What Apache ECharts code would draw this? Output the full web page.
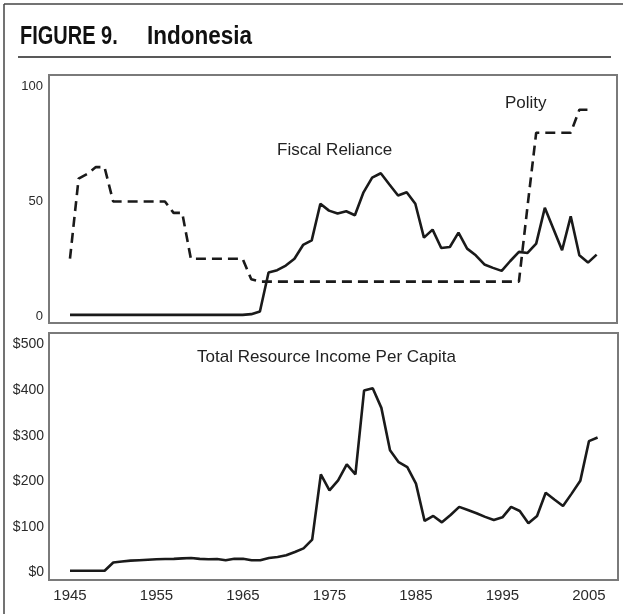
<!DOCTYPE html>
<html>
<head>
<meta charset="utf-8">
<script src="https://cdn.jsdelivr.net/npm/echarts@6/dist/echarts.min.js"></script>
<style>
  html, body { margin: 0; padding: 0; background: #fff; }
  #chart { width: 623px; height: 614px; }
</style>
</head>
<body>
<div id="chart"></div>
<script>
// years 1945..2006
let years = [];
for (let y = 1945; y <= 2006; y++) years.push(y);

// fiscal reliance (solid, top panel), 1945..2006
let fiscalReliance = [
    0.5, 0.5, 0.5, 0.5, 0.5, 0.5, 0.5, 0.5, 0.5, 0.5,   // 1945-1954
    0.5, 0.5, 0.5, 0.5, 0.5, 0.5, 0.5, 0.5, 0.5, 0.5,   // 1955-1964
    0.5, 0.8, 2, 19, 20, 22, 25, 31, 33, 49,            // 1965-1974
    46, 44.7, 45.7, 44, 54, 60.4, 62.3, 57.4, 52.6, 54, // 1975-1984
    49, 34.2, 37.7, 29.7, 30.1, 36.4, 29.4, 26.5, 22.5, 21, // 1985-1994
    19.7, 24, 28, 27.5, 31.6, 47.2, 38, 28.7, 43.5, 26.5,   // 1995-2004
    23.3, 26.8                                          // 2005-2006
];

// polity (dashed, top panel), 1945..2005
let polity = [
    25, 60, 62, 65, 65, 50, 50, 50, 50, 50,             // 1945-1954
    50, 50, 45, 45, 25, 25, 25, 25, 25, 25,             // 1955-1964
    25, 16, 15, 15, 15, 15, 15, 15, 15, 15,             // 1965-1974
    15, 15, 15, 15, 15, 15, 15, 15, 15, 15,             // 1975-1984
    15, 15, 15, 15, 15, 15, 15, 15, 15, 15,             // 1985-1994
    15, 15, 15, 48, 80, 80, 80, 80, 80, 90,             // 1995-2004
    90                                                  // 2005
];

// total resource income per capita (bottom panel), 1945..2006
let resourceIncome = [
    4, 4, 4, 4, 4, 22, 24, 26, 27, 28,                  // 1945-1954
    29, 29.5, 30, 31, 32, 30, 29, 29.5, 27, 30,         // 1955-1964
    30, 27, 27, 31.7, 34, 38, 45, 53, 72, 215,          // 1965-1974
    180, 202, 237, 215, 399, 404, 361, 268, 242, 231,   // 1975-1984
    195, 113, 124, 110, 126, 144, 137, 130, 122, 115,   // 1985-1994
    121, 144, 135, 108, 124, 175, 160, 146, 173, 201,   // 1995-2004
    288, 296                                            // 2005-2006
];

let xTickYears = [1945, 1955, 1965, 1975, 1985, 1995, 2005];
let topTicks = [0, 50, 100];
let bottomTicks = [0, 100, 200, 300, 400, 500];

let pairs = function (vals) {
    return vals.map((v, i) => [years[i], v]);
};

let chartDom = document.getElementById('chart');
let myChart = echarts.init(chartDom, null, { renderer: 'canvas' });

let labelFont = "'Liberation Sans', Arial, sans-serif";
let frameColor = '#7a7a7a';
let lineColor = '#1a1a1a';

let option = {
    backgroundColor: '#fff',
    animation: false,
    grid: [
        { left: 49, top: 75, width: 568, height: 248, show: true, borderColor: frameColor, borderWidth: 2, backgroundColor: 'transparent' },
        { left: 49, top: 333, width: 569, height: 247, show: true, borderColor: frameColor, borderWidth: 2, backgroundColor: 'transparent' }
    ],
    xAxis: [
        {
            gridIndex: 0, type: 'value', min: 1942.57, max: 2008.36,
            axisLine: { show: false }, axisTick: { show: false }, splitLine: { show: false },
            axisLabel: { show: false }
        },
        {
            gridIndex: 1, type: 'value', min: 1942.57, max: 2008.36,
            axisLine: { show: false }, axisTick: { show: false }, splitLine: { show: false },
            axisLabel: {
                customValues: xTickYears,
                margin: 8,
                fontSize: 15,
                fontFamily: labelFont,
                color: '#2a2a2a',
                formatter: v => String(v)
            }
        }
    ],
    yAxis: [
        {
            gridIndex: 0, type: 'value', min: -3.06, max: 105.2,
            axisLine: { show: false }, axisTick: { show: false }, splitLine: { show: false },
            axisLabel: {
                customValues: topTicks,
                margin: 6,
                fontSize: 13,
                fontFamily: labelFont,
                color: '#2a2a2a'
            }
        },
        {
            gridIndex: 1, type: 'value', min: -16.4, max: 525.2,
            axisLine: { show: false }, axisTick: { show: false }, splitLine: { show: false },
            axisLabel: {
                customValues: bottomTicks,
                margin: 5,
                fontSize: 14,
                fontFamily: labelFont,
                color: '#2a2a2a',
                formatter: v => '$' + v
            }
        }
    ],
    series: [
        {
            name: 'Fiscal Reliance', type: 'line', xAxisIndex: 0, yAxisIndex: 0,
            data: pairs(fiscalReliance), showSymbol: false,
            lineStyle: { color: lineColor, width: 2.6 }
        },
        {
            name: 'Polity', type: 'line', xAxisIndex: 0, yAxisIndex: 0,
            data: pairs(polity), showSymbol: false,
            lineStyle: { color: lineColor, width: 2.6, type: [10, 6] }
        },
        {
            name: 'Total Resource Income Per Capita', type: 'line', xAxisIndex: 1, yAxisIndex: 1,
            data: pairs(resourceIncome), showSymbol: false,
            lineStyle: { color: lineColor, width: 2.6 }
        }
    ],
    graphic: [
        // outer frame (left and top edges)
        { type: 'line', shape: { x1: 4, y1: 4, x2: 4, y2: 614 }, style: { stroke: '#444', lineWidth: 1.5 } },
        { type: 'line', shape: { x1: 4, y1: 4, x2: 623, y2: 4 }, style: { stroke: '#444', lineWidth: 1.5 } },
        // title (condensed look: taller than wide)
        {
            type: 'text', x: 20, y: 37, scaleY: 1.25,
            style: { x: 0, y: 0, text: 'FIGURE 9.', font: "bold 20px 'Liberation Sans', Arial, sans-serif", fill: '#111', verticalAlign: 'middle' }
        },
        {
            type: 'text', x: 147, y: 37, scaleY: 1.12,
            style: { x: 0, y: 0, text: 'Indonesia', font: "bold 22.5px 'Liberation Sans', Arial, sans-serif", fill: '#111', verticalAlign: 'middle' }
        },
        { type: 'line', shape: { x1: 18, y1: 57, x2: 611, y2: 57 }, style: { stroke: '#222', lineWidth: 1.5 } },
        // series labels
        {
            type: 'text', x: 277, y: 150,
            style: { text: 'Fiscal Reliance', font: "17px 'Liberation Sans', Arial, sans-serif", fill: '#222', verticalAlign: 'middle' }
        },
        {
            type: 'text', x: 505, y: 103,
            style: { text: 'Polity', font: "17px 'Liberation Sans', Arial, sans-serif", fill: '#222', verticalAlign: 'middle' }
        },
        {
            type: 'text', x: 197, y: 357,
            style: { text: 'Total Resource Income Per Capita', font: "17px 'Liberation Sans', Arial, sans-serif", fill: '#222', verticalAlign: 'middle' }
        }
    ]
};

myChart.setOption(option);
</script>
</body>
</html>
